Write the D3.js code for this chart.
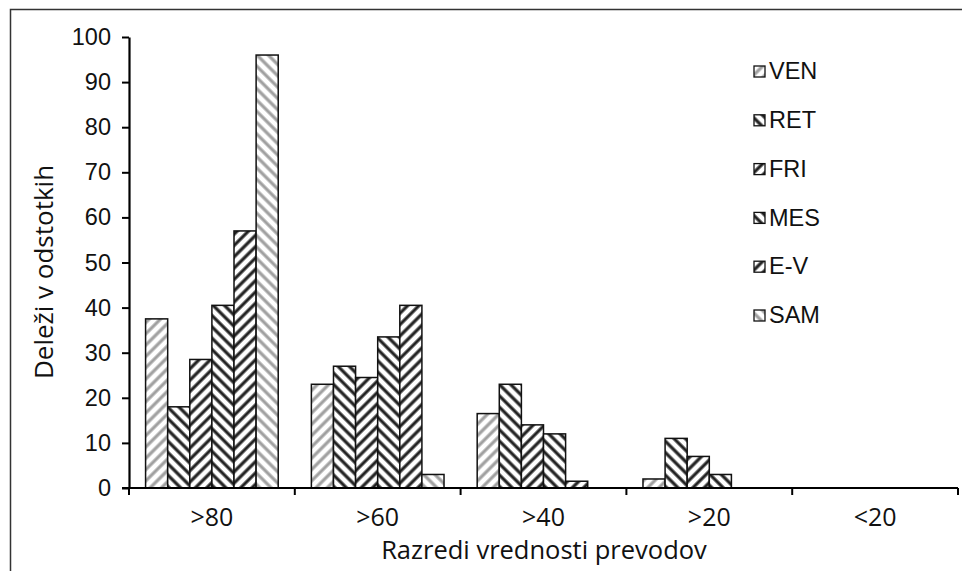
<!DOCTYPE html>
<html>
<head>
<meta charset="utf-8">
<script src="https://cdn.jsdelivr.net/npm/d3@7"></script>
<style>
  body { margin: 0; background: #fff; }
  svg { display: block; }
</style>
</head>
<body>
<div id="chart"></div>
<script>
// categories and series
const categories = [">80", ">60", ">40", ">20", "<20"];
const seriesNames = ["VEN", "RET", "FRI", "MES", "E-V", "SAM"];
const VEN = [37.5, 23, 16.5, 2, 0];
const RET = [18, 27, 23, 11, 0];
const FRI = [28.5, 24.5, 14, 7, 0];
const MES = [40.5, 33.5, 12, 3, 0];
const EV  = [57, 40.5, 1.5, 0, 0];
const SAM = [96, 3, 0, 0, 0];
const seriesValues = [VEN, RET, FRI, MES, EV, SAM];
const yTicks = [0, 10, 20, 30, 40, 50, 60, 70, 80, 90, 100];

// hatch style per series: colour and direction
const hatch = [
    { color: "#a0a0a0", dir: "up" },
    { color: "#222", dir: "down" },
    { color: "#222", dir: "up" },
    { color: "#222", dir: "down" },
    { color: "#222", dir: "up" },
    { color: "#a0a0a0", dir: "down" }
];

const width = 962, height = 571;
const margin = { left: 129, right: 4, top: 37, bottom: 83 };
const innerW = width - margin.left - margin.right;
const innerH = height - margin.top - margin.bottom;

const svg = d3.select("#chart").append("svg")
    .attr("width", width)
    .attr("height", height);

// hatch patterns
const defs = svg.append("defs");
hatch.forEach((h, i) => {
    const p = defs.append("pattern")
        .attr("id", "hatch" + i)
        .attr("patternUnits", "userSpaceOnUse")
        .attr("width", 8)
        .attr("height", 8)
        .attr("patternTransform", `rotate(${h.dir === "up" ? 45 : -45})`);
    p.append("rect").attr("width", 8).attr("height", 8).attr("fill", "#fff");
    p.append("line")
        .attr("x1", 2).attr("y1", 0).attr("x2", 2).attr("y2", 8)
        .attr("stroke", h.color)
        .attr("stroke-width", 3.2);
});

// outer frame (top and left only are visible in the reference)
svg.append("path")
    .attr("d", `M10.5,${height} V9.5 H${width}`)
    .attr("fill", "none")
    .attr("stroke", "#333")
    .attr("stroke-width", 1.5);

const g = svg.append("g").attr("transform", `translate(${margin.left},${margin.top})`);

const x0 = d3.scaleBand()
    .domain(categories)
    .range([0, innerW])
    .paddingInner(0.2)
    .paddingOuter(0.1);

const x1 = d3.scaleBand()
    .domain(seriesNames)
    .range([0, x0.bandwidth()]);

const y = d3.scaleLinear()
    .domain([0, 100])
    .range([innerH, 0]);

// bars
categories.forEach((cat, ci) => {
    const grp = g.append("g").attr("transform", `translate(${x0(cat)},0)`);
    seriesNames.forEach((s, si) => {
        const v = seriesValues[si][ci];
        if (v <= 0) return;
        grp.append("rect")
            .attr("x", x1(s))
            .attr("y", y(v))
            .attr("width", x1.bandwidth())
            .attr("height", y(0) - y(v))
            .attr("fill", `url(#hatch${si})`)
            .attr("stroke", "#111")
            .attr("stroke-width", 1.5);
    });
});

// y axis
const yAxis = g.append("g")
    .call(d3.axisLeft(y).tickValues(yTicks).tickSize(7).tickSizeOuter(0));
yAxis.select(".domain").attr("stroke", "#000").attr("stroke-width", 2.2);
yAxis.selectAll(".tick line").attr("stroke", "#000").attr("stroke-width", 2);
yAxis.selectAll(".tick text")
    .attr("x", -18)
    .attr("font-family", "Liberation Sans, Arial, sans-serif")
    .attr("font-size", 23.5)
    .attr("fill", "#111");

// x axis with ticks at category boundaries
const step = x0.step();
const boundaries = d3.range(categories.length + 1).map(i => x0(categories[0]) - x0.paddingOuter() * step + i * step);
const xAxisG = g.append("g").attr("transform", `translate(0,${innerH})`);
xAxisG.append("line")
    .attr("x1", -7).attr("x2", innerW)
    .attr("stroke", "#000")
    .attr("stroke-width", 2.2);
xAxisG.selectAll("line.btick")
    .data(boundaries)
    .join("line")
    .attr("class", "btick")
    .attr("x1", d => d).attr("x2", d => d)
    .attr("y1", 0).attr("y2", 7)
    .attr("stroke", "#000")
    .attr("stroke-width", 2);
xAxisG.selectAll("text.clabel")
    .data(categories)
    .join("text")
    .attr("class", "clabel")
    .attr("x", d => x0(d) + x0.bandwidth() / 2)
    .attr("y", 31)
    .attr("text-anchor", "middle")
    .attr("dominant-baseline", "middle")
    .attr("font-family", "Open Sans, sans-serif")
    .attr("font-size", 25)
    .attr("fill", "#111")
    .text(d => d);

// axis titles
svg.append("text")
    .attr("x", 544)
    .attr("y", 552)
    .attr("text-anchor", "middle")
    .attr("dominant-baseline", "middle")
    .attr("font-family", "Open Sans, sans-serif")
    .attr("font-size", 25.5)
    .attr("fill", "#111")
    .text("Razredi vrednosti prevodov");

svg.append("text")
    .attr("transform", "translate(46,272) rotate(-90)")
    .attr("text-anchor", "middle")
    .attr("dominant-baseline", "middle")
    .attr("font-family", "Open Sans, sans-serif")
    .attr("font-size", 26)
    .attr("fill", "#111")
    .text("Deleži v odstotkih");

// legend
const legend = svg.append("g").attr("transform", "translate(754,72)");
seriesNames.forEach((s, i) => {
    const row = legend.append("g").attr("transform", `translate(0,${i * 48.8})`);
    row.append("rect")
        .attr("x", 0).attr("y", -6)
        .attr("width", 11).attr("height", 11)
        .attr("fill", `url(#hatch${i})`)
        .attr("stroke", "#111")
        .attr("stroke-width", 1.3);
    row.append("text")
        .attr("x", 15)
        .attr("y", 1)
        .attr("dominant-baseline", "middle")
        .attr("font-family", "Liberation Sans, Arial, sans-serif")
        .attr("font-size", 23.5)
        .attr("fill", "#111")
        .text(s);
});
</script>
</body>
</html>
